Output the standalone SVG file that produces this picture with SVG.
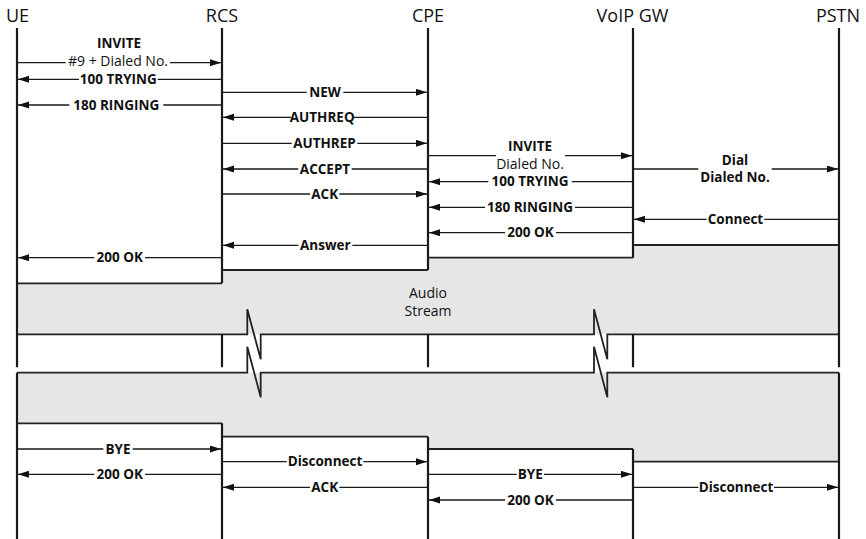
<svg xmlns="http://www.w3.org/2000/svg" width="866" height="539" viewBox="0 0 866 539">
<style>
.hdr{font-family:"Open Sans","Liberation Sans",sans-serif;font-size:18px;fill:#111;text-anchor:middle}
.lb{font-family:"Open Sans","Liberation Sans",sans-serif;font-size:13.5px;font-weight:bold;fill:#111;text-anchor:middle}
.lr{font-family:"Open Sans","Liberation Sans",sans-serif;font-size:14px;font-weight:normal;fill:#111;text-anchor:middle}
.life{stroke:#1a1a1a;stroke-width:2.2;fill:none}
.box{stroke:#222;stroke-width:1.8;fill:none}
.msg{stroke:#1a1a1a;stroke-width:1.3;fill:none}
.arr{stroke:#1a1a1a;stroke-width:1.3;fill:none;marker-end:url(#ah)}
</style>
<defs>
<marker id="ah" markerWidth="11" markerHeight="8" refX="11" refY="3.5" orient="auto" markerUnits="userSpaceOnUse"><path d="M0,0 L11,3.5 L0,7 z" fill="#111"/></marker>
</defs>
<rect width="866" height="539" fill="#fff"/>
<g id="audio-stream">
<polygon points="17,283.3 222,283.3 222,270 428,270 428,257.7 633,257.7 633,245 839,245 839,334.3 17,334.3" fill="#e6e6e6"/>
<polygon points="17,372.7 839,372.7 839,461.7 633,461.7 633,449 428,449 428,436.7 222,436.7 222,423.3 17,423.3" fill="#e6e6e6"/>
<path class="box" d="M17,283.3H222M222,270H428M428,257.7H633M633,245H839"/>
<path class="box" d="M17,334.3H247.3V309.3L260.7,359.3V334.3H594V309.3L607.3,359.3V334.3H839"/>
<path class="box" d="M17,372.7H247.3V346.7L260.7,397.3V372.7H594V346.7L607.3,397.3V372.7H839"/>
<path class="box" d="M17,423.3H222M222,436.7H428M428,449H633M633,461.7H839"/>
<text class="lr" x="428" y="298">Audio<tspan x="428" dy="18">Stream</tspan></text>
</g>
<g id="UE"><text class="hdr" x="17.5" y="21.7">UE</text><path class="life" d="M17,28V367.3M17,372.7V539"/></g>
<g id="RCS"><text class="hdr" x="222" y="21.7">RCS</text><path class="life" d="M222,28V283.3M222,334.3V367.3M222,423.3V539"/></g>
<g id="CPE"><text class="hdr" x="428" y="21.7">CPE</text><path class="life" d="M428,28V270M428,334.3V367.3M428,436.7V539"/></g>
<g id="VoIPGW"><text class="hdr" x="632.5" y="21.7">VoIP GW</text><path class="life" d="M633,28V257.7M633,334.3V367.3M633,449V539"/></g>
<g id="PSTN"><text class="hdr" x="838" y="21.7">PSTN</text><path class="life" d="M839,28V367.3M839,372.7V539"/></g>
<g id="connectors">
<!-- INVITE UE->RCS -->
<line class="msg" x1="17" y1="62.7" x2="65.7" y2="62.7"/><line class="arr" x1="170" y1="62.7" x2="221" y2="62.7"/>
<text class="lb" x="119" y="48">INVITE<tspan class="lr" x="118" dy="17.8">#9 + Dialed No.</tspan></text>
<!-- 100 TRYING RCS->UE -->
<line class="msg" x1="222" y1="79.3" x2="157.7" y2="79.3"/><line class="arr" x1="79" y1="79.3" x2="18" y2="79.3"/>
<text class="lb" x="118.3" y="83.8">100 TRYING</text>
<!-- NEW RCS->CPE -->
<line class="msg" x1="222" y1="92.3" x2="306.7" y2="92.3"/><line class="arr" x1="343.3" y1="92.3" x2="427" y2="92.3"/>
<text class="lb" x="325" y="96.8">NEW</text>
<!-- 180 RINGING RCS->UE -->
<line class="msg" x1="222" y1="105" x2="163.3" y2="105"/><line class="arr" x1="69.3" y1="105" x2="18" y2="105"/>
<text class="lb" x="116.3" y="109.5">180 RINGING</text>
<!-- AUTHREQ CPE->RCS -->
<line class="msg" x1="428" y1="117.3" x2="353.3" y2="117.3"/><line class="arr" x1="291" y1="117.3" x2="223" y2="117.3"/>
<text class="lb" x="322.2" y="121.8">AUTHREQ</text>
<!-- AUTHREP RCS->CPE -->
<line class="msg" x1="222" y1="143.3" x2="291.7" y2="143.3"/><line class="arr" x1="357.3" y1="143.3" x2="427" y2="143.3"/>
<text class="lb" x="324.5" y="147.8">AUTHREP</text>
<!-- ACCEPT CPE->RCS -->
<line class="msg" x1="428" y1="169" x2="351.7" y2="169"/><line class="arr" x1="298.3" y1="169" x2="223" y2="169"/>
<text class="lb" x="325" y="173.5">ACCEPT</text>
<!-- ACK RCS->CPE -->
<line class="msg" x1="222" y1="194" x2="310" y2="194"/><line class="arr" x1="339.3" y1="194" x2="427" y2="194"/>
<text class="lb" x="324.7" y="198.5">ACK</text>
<!-- Answer CPE->RCS -->
<line class="msg" x1="428" y1="245.3" x2="352.3" y2="245.3"/><line class="arr" x1="298.3" y1="245.3" x2="223" y2="245.3"/>
<text class="lb" x="325.3" y="249.8">Answer</text>
<!-- 200 OK RCS->UE -->
<line class="msg" x1="222" y1="257.7" x2="145" y2="257.7"/><line class="arr" x1="94.3" y1="257.7" x2="18" y2="257.7"/>
<text class="lb" x="119.7" y="262.2">200 OK</text>
<!-- INVITE CPE->VoIP -->
<line class="msg" x1="428" y1="155.7" x2="496" y2="155.7"/><line class="arr" x1="565" y1="155.7" x2="632" y2="155.7"/>
<text class="lb" x="530" y="150.8">INVITE<tspan class="lr" x="530" dy="18.2">Dialed No.</tspan></text>
<!-- 100 TRYING VoIP->CPE -->
<line class="msg" x1="633" y1="181.7" x2="571.7" y2="181.7"/><line class="arr" x1="488.3" y1="181.7" x2="429" y2="181.7"/>
<text class="lb" x="530" y="186.2">100 TRYING</text>
<!-- 180 RINGING VoIP->CPE -->
<line class="msg" x1="633" y1="207.3" x2="575" y2="207.3"/><line class="arr" x1="485" y1="207.3" x2="429" y2="207.3"/>
<text class="lb" x="530" y="211.8">180 RINGING</text>
<!-- 200 OK VoIP->CPE -->
<line class="msg" x1="633" y1="232.7" x2="556" y2="232.7"/><line class="arr" x1="505" y1="232.7" x2="429" y2="232.7"/>
<text class="lb" x="530.5" y="237.2">200 OK</text>
<!-- Dial VoIP->PSTN -->
<line class="msg" x1="633" y1="169" x2="698.3" y2="169"/><line class="arr" x1="771.7" y1="169" x2="838" y2="169"/>
<text class="lb" x="735" y="164.7">Dial<tspan x="735" dy="17">Dialed No.</tspan></text>
<!-- Connect PSTN->VoIP -->
<line class="msg" x1="839" y1="219.3" x2="764.3" y2="219.3"/><line class="arr" x1="706.7" y1="219.3" x2="634" y2="219.3"/>
<text class="lb" x="735.5" y="223.8">Connect</text>
<!-- BYE UE->RCS -->
<line class="msg" x1="17" y1="449" x2="103.3" y2="449"/><line class="arr" x1="132.7" y1="449" x2="221" y2="449"/>
<text class="lb" x="118" y="453.5">BYE</text>
<!-- 200 OK RCS->UE -->
<line class="msg" x1="222" y1="474.3" x2="145" y2="474.3"/><line class="arr" x1="94.3" y1="474.3" x2="18" y2="474.3"/>
<text class="lb" x="119.7" y="478.8">200 OK</text>
<!-- Disconnect RCS->CPE -->
<line class="msg" x1="222" y1="461.7" x2="286.7" y2="461.7"/><line class="arr" x1="363.3" y1="461.7" x2="427" y2="461.7"/>
<text class="lb" x="325" y="466.2">Disconnect</text>
<!-- ACK CPE->RCS -->
<line class="msg" x1="428" y1="487.3" x2="339.3" y2="487.3"/><line class="arr" x1="310" y1="487.3" x2="223" y2="487.3"/>
<text class="lb" x="324.7" y="491.8">ACK</text>
<!-- BYE CPE->VoIP -->
<line class="msg" x1="428" y1="474.3" x2="516.7" y2="474.3"/><line class="arr" x1="544" y1="474.3" x2="632" y2="474.3"/>
<text class="lb" x="530.3" y="478.8">BYE</text>
<!-- 200 OK VoIP->CPE -->
<line class="msg" x1="633" y1="500" x2="556" y2="500"/><line class="arr" x1="505" y1="500" x2="429" y2="500"/>
<text class="lb" x="530.5" y="504.5">200 OK</text>
<!-- Disconnect VoIP->PSTN -->
<line class="msg" x1="633" y1="487.3" x2="698.3" y2="487.3"/><line class="arr" x1="774" y1="487.3" x2="838" y2="487.3"/>
<text class="lb" x="736" y="491.8">Disconnect</text>
</g>
</svg>
